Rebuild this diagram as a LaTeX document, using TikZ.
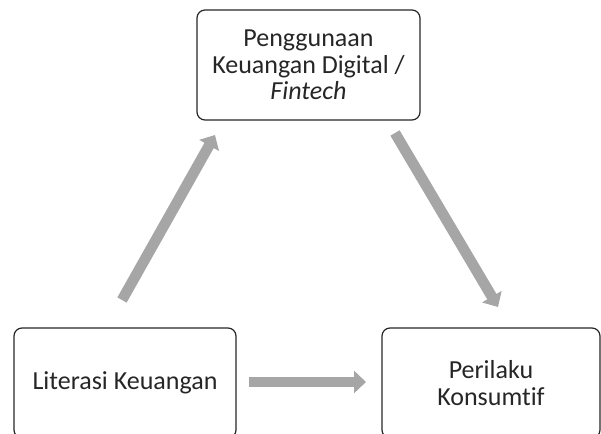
\documentclass[tikz,border=0pt]{standalone}
\usepackage{fontspec}
\setmainfont{Carlito}[Ligatures={NoCommon}]
\usetikzlibrary{arrows.meta}
\definecolor{arrowgray}{HTML}{A6A6A6}
\definecolor{textgray}{HTML}{262626}
\begin{document}
\begin{tikzpicture}[x=0.75pt, y=-0.75pt,
    box/.style={draw=textgray, line width=0.9pt, rounded corners=6pt, align=center,
        text=textgray, font=\fontsize{19.5}{20}\selectfont},
    flow/.style={draw=arrowgray, line width=8pt,
        -{Triangle[width=16.5pt, length=9pt]}}]
    \useasboundingbox (0,0) rectangle (601,434);

    % The three variables
    \node[box, minimum width=167.25pt, minimum height=82.5pt] (fintech) at (308.5,65)
        {Penggunaan\\Keuangan Digital /\\\textit{Fintech}};
    \node[box, minimum width=166.5pt, minimum height=82.5pt] (literasi) at (125,383)
        {Literasi Keuangan};
    \node[box, minimum width=163.5pt, minimum height=82.5pt] (konsumtif) at (491,383)
        {Perilaku\\Konsumtif};

    % Arrow ends between the boxes
    \coordinate (litUp) at (122,300);
    \coordinate (finIn) at (215,135);
    \coordinate (finOut) at (395,133);
    \coordinate (konIn) at (498,307);
    \coordinate (litRight) at (249,382);
    \coordinate (konLeft) at (366,382);

    % Relations
    \draw[flow] (litUp) -- (finIn);
    \draw[flow] (finOut) -- (konIn);
    \draw[flow] (litRight) -- (konLeft);
\end{tikzpicture}
\end{document}
